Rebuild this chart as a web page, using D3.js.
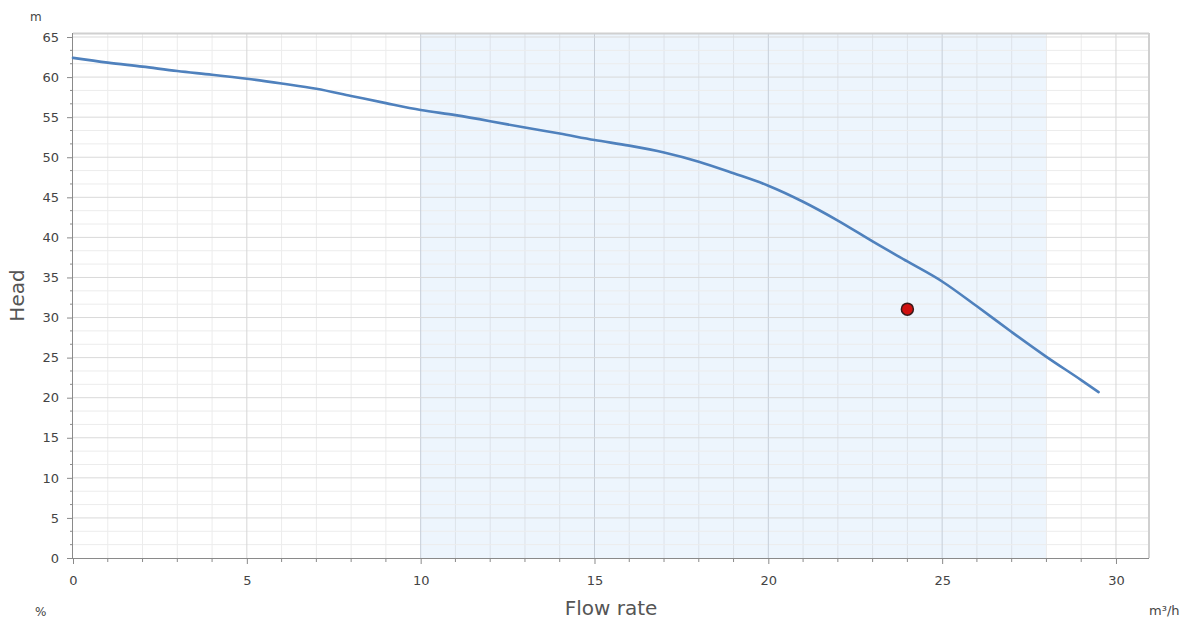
<!DOCTYPE html>
<html>
<head>
<meta charset="utf-8">
<script src="https://cdn.jsdelivr.net/npm/d3@7"></script>
<style>
  body { margin: 0; background: #fff; }
  text { font-family: "DejaVu Sans", Verdana, sans-serif; }
</style>
</head>
<body>
<div class="chart"></div>
<script>
// curve
const flow = [0, 1, 2, 3, 4, 5, 6, 7, 8, 9, 10, 11, 12, 13, 14, 15, 16, 17, 18, 19, 20, 21, 22, 23, 24, 25, 26, 27, 28, 29, 29.5];
const head = [62.4, 61.8, 61.3, 60.75, 60.3, 59.8, 59.2, 58.55, 57.65, 56.75, 55.9, 55.25, 54.5, 53.7, 52.95, 52.15, 51.45, 50.6, 49.45, 48.0, 46.45, 44.45, 42.1, 39.5, 37.0, 34.5, 31.4, 28.2, 25.1, 22.2, 20.7];
const dutyPoint = [24, 31.05];
const range = [10, 28];
const xTicks = [0, 5, 10, 15, 20, 25, 30];
const yTicks = [0, 5, 10, 15, 20, 25, 30, 35, 40, 45, 50, 55, 60, 65];

const data = flow.map((f, i) => ({flow: f, head: head[i]}));

const margin = ({top: 33, right: 32, bottom: 62, left: 73});
const W = 1181, H = 620;
const width = W - margin.left - margin.right;
const height = H - margin.top - margin.bottom;

const svg = d3.select(".chart")
    .append("svg")
    .attr("width", W)
    .attr("height", H);

const g = svg.append("g")
    .attr("transform", `translate(${margin.left},${margin.top})`);

const xScale = d3.scaleLinear().domain([0, 30.95]).range([0, width]);
const yScale = d3.scaleLinear().domain([0, 65.5]).range([height, 0]);

// operating range band
g.append("rect")
    .attr("x", xScale(range[0]))
    .attr("width", xScale(range[1]) - xScale(range[0]))
    .attr("y", 0)
    .attr("height", height)
    .attr("fill", "#edf5fd");

// minor grid
const xMinor = d3.range(1, 31).filter(v => v % 5 !== 0);
const yMinor = d3.range(0, 65.5, 5 / 3).filter((v, i) => i % 3 !== 0);

g.selectAll(".xminor").data(xMinor).enter().append("line")
    .attr("x1", d => xScale(d)).attr("x2", d => xScale(d))
    .attr("y1", 0).attr("y2", height)
    .attr("stroke", d => (d > range[0] && d < range[1]) ? "#dde3ea" : "#ececec");

g.selectAll(".yminor").data(yMinor).enter().append("line")
    .attr("x1", 0).attr("x2", width)
    .attr("y1", d => yScale(d)).attr("y2", d => yScale(d))
    .attr("stroke", "#ececec");

// major grid
g.selectAll(".xmajor").data(xTicks.slice(1)).enter().append("line")
    .attr("x1", d => xScale(d)).attr("x2", d => xScale(d))
    .attr("y1", 0).attr("y2", height)
    .attr("stroke", d => (d >= range[0] && d <= range[1]) ? "#c6ced8" : "#d6d6d6");

g.selectAll(".ymajor").data(yTicks.slice(1)).enter().append("line")
    .attr("x1", 0).attr("x2", width)
    .attr("y1", d => yScale(d)).attr("y2", d => yScale(d))
    .attr("stroke", "#d9d9d9");

// frame top / right
g.append("line").attr("x1", 0).attr("x2", width).attr("y1", 0.5).attr("y2", 0.5)
    .attr("stroke", "#d0d0d0").attr("stroke-width", 2);
g.append("line").attr("x1", width).attr("x2", width).attr("y1", 0).attr("y2", height)
    .attr("stroke", "#d0d0d0").attr("stroke-width", 2);

// axes
const xAxis = d3.axisBottom(xScale).tickValues(xTicks).tickSize(6).tickPadding(12);
const yAxis = d3.axisLeft(yScale).tickValues(yTicks).tickSize(6).tickPadding(8);

const xAxisGroup = g.append("g")
    .attr("transform", `translate(0,${height})`)
    .call(xAxis)
    .call(a => a.select(".domain").attr("stroke", "#8a8a8a").attr("d", `M0,0.5H${width}`));
xAxisGroup.selectAll(".tick line").attr("stroke", "#8a8a8a");
xAxisGroup.selectAll(".tick text").attr("fill", "#444").attr("font-size", 13);

xAxisGroup.selectAll(".minor").data(xMinor).enter().append("line")
    .attr("x1", d => xScale(d)).attr("x2", d => xScale(d))
    .attr("y1", 0).attr("y2", 4)
    .attr("stroke", "#8a8a8a");

const yAxisGroup = g.append("g")
    .call(yAxis)
    .call(a => a.select(".domain").attr("stroke", "#8a8a8a").attr("d", `M-0.5,0V${height}`));
yAxisGroup.selectAll(".tick line").attr("stroke", "#8a8a8a");
yAxisGroup.selectAll(".tick text").attr("fill", "#444").attr("font-size", 13);

yAxisGroup.selectAll(".minor").data(yMinor).enter().append("line")
    .attr("x1", -3).attr("x2", 0)
    .attr("y1", d => yScale(d)).attr("y2", d => yScale(d))
    .attr("stroke", "#8a8a8a");

// curve
const line = d3.line()
    .x(d => xScale(d.flow))
    .y(d => yScale(d.head))
    .curve(d3.curveMonotoneX);

g.append("path")
    .datum(data)
    .attr("fill", "none")
    .attr("stroke", "#4f81bd")
    .attr("stroke-width", 2.6)
    .attr("stroke-linecap", "round")
    .attr("d", line);

// duty point
g.append("circle")
    .attr("cx", xScale(dutyPoint[0]))
    .attr("cy", yScale(dutyPoint[1]))
    .attr("r", 6)
    .attr("fill", "#d01010")
    .attr("stroke", "#3a1a1a")
    .attr("stroke-width", 1.5);

// labels
svg.append("text")
    .attr("x", 30).attr("y", 21)
    .attr("font-size", 12).attr("fill", "#444")
    .text("m");

svg.append("text")
    .attr("transform", `translate(24,${margin.top + height / 2}) rotate(-90)`)
    .attr("text-anchor", "middle")
    .attr("font-size", 20).attr("fill", "#555")
    .text("Head");

svg.append("text")
    .attr("x", margin.left + width / 2).attr("y", 615)
    .attr("text-anchor", "middle")
    .attr("font-size", 20).attr("fill", "#555")
    .text("Flow rate");

svg.append("text")
    .attr("x", 35).attr("y", 616)
    .attr("font-size", 12).attr("fill", "#444")
    .text("%");

svg.append("text")
    .attr("x", 1149).attr("y", 615)
    .attr("font-size", 13).attr("fill", "#444")
    .text("m³/h");
</script>
</body>
</html>
